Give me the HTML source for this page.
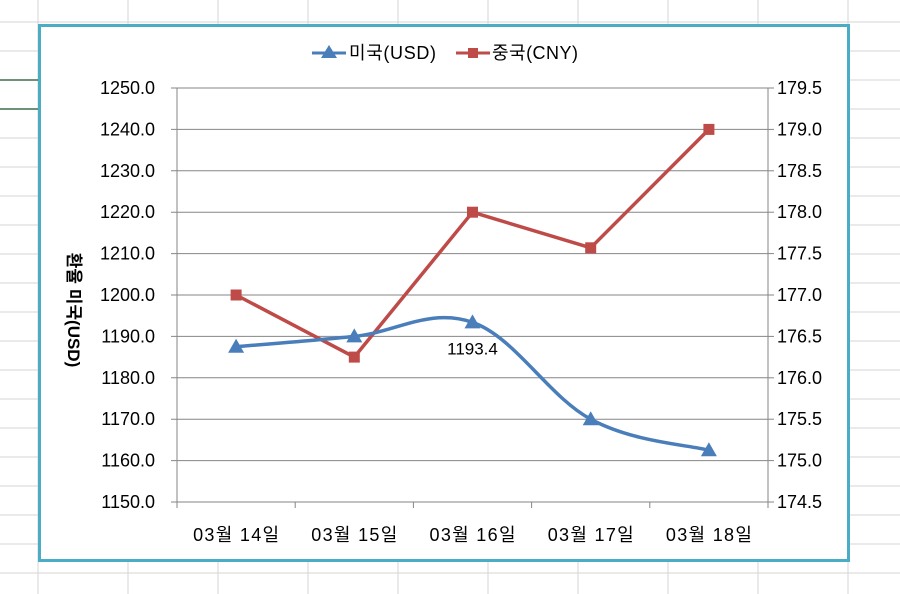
<!DOCTYPE html>
<html><head><meta charset="utf-8"><style>
html,body{margin:0;padding:0;background:#fff}
svg{display:block;font-family:"Liberation Sans","Noto Sans CJK KR",sans-serif}
</style></head><body>
<svg id="c" width="900" height="594" viewBox="0 0 900 594">
<g id="bg"></g>
<line x1="0" y1="80" x2="38" y2="80" stroke="#3c6e4c" stroke-width="1.5"/>
<line x1="0" y1="109" x2="38" y2="109" stroke="#3c6e4c" stroke-width="1.5"/>
<rect x="39.5" y="25.5" width="809" height="535" fill="#fff" stroke="#4bacc6" stroke-width="3"/>
<g id="grid"></g>
<g id="axes"></g>
<g id="marks"></g>
<g>
 <g>
  <line x1="312" y1="53" x2="346" y2="53" stroke="#4a7ebb" stroke-width="3"/>
  <polygon points="329,45 337,58 321,58" fill="#4a7ebb"/>
  <text x="349" y="59" font-size="18" textLength="87" fill="#000">미국(USD)</text>
 </g>
 <g>
  <line x1="456" y1="53" x2="490" y2="53" stroke="#be4b48" stroke-width="3"/>
  <rect x="468" y="48" width="10" height="10" fill="#be4b48"/>
  <text x="492" y="59" font-size="18" textLength="86" fill="#000">중국(CNY)</text>
 </g>
</g>
<text transform="translate(68,310) rotate(90)" text-anchor="middle" font-size="17" font-weight="bold">환율 미국(USD)</text>
</svg>
<script>
const categories=["03월 14일","03월 15일","03월 16일","03월 17일","03월 18일"];
const usdValues=[1187.5,1190.0,1193.4,1170.0,1162.5];
const cnyValues=[177.0,176.25,178.0,177.57,179.0];
const leftTicks=[1150,1160,1170,1180,1190,1200,1210,1220,1230,1240,1250];
const rightTicks=[174.5,175,175.5,176,176.5,177,177.5,178,178.5,179,179.5];
const labelIndex=2;

const NS="http://www.w3.org/2000/svg";
const PL=177,PR=768,PT=88,PB=502;
const yL=v=>PB-(v-1150)/100*(PB-PT);
const yR=v=>PB-(v-174.5)/5*(PB-PT);
const band=(PR-PL)/categories.length;
const xC=i=>PL+band*(i+0.5);
function mk(tag,attrs,parent){const e=document.createElementNS(NS,tag);for(const k in attrs)e.setAttribute(k,attrs[k]);parent.appendChild(e);return e;}

const bg=document.getElementById('bg');
for(let x=38;x<900;x+=90){mk('line',{x1:x,y1:0,x2:x,y2:594,stroke:'#d4d4d4','stroke-width':1},bg);}
for(let y=22;y<594;y+=29){mk('line',{x1:0,y1:y,x2:900,y2:y,stroke:'#d4d4d4','stroke-width':1},bg);}

const grid=document.getElementById('grid'),axes=document.getElementById('axes');
leftTicks.forEach((t,i)=>{
 const y=yL(t);
 const g=mk('line',{x1:PL-6,y1:y,x2:PR,y2:y,stroke:'#868686','stroke-width':1},grid);
 
 
 const tx=mk('text',{x:155,y:y+6,'text-anchor':'end','font-size':18},axes);
 tx.textContent=t.toFixed(1);
 
 
});
rightTicks.forEach(t=>{
 const y=yR(t);
 mk('line',{x1:PR,y1:y,x2:PR+6,y2:y,stroke:'#868686'},axes);
 const tx=mk('text',{x:777,y:y+6,'font-size':18},axes);
 tx.textContent=t.toFixed(1);
 
 
});
mk('line',{x1:PL,y1:PT,x2:PL,y2:PB,stroke:'#868686'},axes);
mk('line',{x1:PR,y1:PT,x2:PR,y2:PB+6,stroke:'#868686'},axes);
for(let i=0;i<=categories.length;i++){mk('line',{x1:PL+band*i,y1:PB,x2:PL+band*i,y2:PB+6,stroke:'#868686'},axes);}
categories.forEach((c,i)=>{
 const tx=mk('text',{x:xC(i),y:541,'text-anchor':'middle','font-size':18,textLength:86},axes);
 tx.textContent=c;
 
 
});

const marks=document.getElementById('marks');
const cp=cnyValues.map((v,i)=>[xC(i),yR(v)]);
const cl=mk('polyline',{points:cp.map(p=>p.join(',')).join(' '),fill:'none',stroke:'#be4b48','stroke-width':3.5,'stroke-linejoin':'round'},marks);


const up=usdValues.map((v,i)=>[xC(i),yL(v)]);
let d=`M${up[0][0]},${up[0][1]}`;
const tn=0.18;
for(let i=0;i<up.length-1;i++){
 const p0=up[Math.max(0,i-1)],p1=up[i],p2=up[i+1],p3=up[Math.min(up.length-1,i+2)];
 const c1=[p1[0]+(p2[0]-p0[0])*tn,p1[1]+(p2[1]-p0[1])*tn];
 const c2=[p2[0]-(p3[0]-p1[0])*tn,p2[1]-(p3[1]-p1[1])*tn];
 d+=` C${c1[0]},${c1[1]} ${c2[0]},${c2[1]} ${p2[0]},${p2[1]}`;
}
const ul=mk('path',{d:d,fill:'none',stroke:'#4a7ebb','stroke-width':3.5},marks);


up.forEach((p,i)=>{
 const m=mk('polygon',{points:`${p[0]},${p[1]-8} ${p[0]+8},${p[1]+6} ${p[0]-8},${p[1]+6}`,fill:'#4a7ebb'},marks);
 
 
});
cp.forEach((p,i)=>{
 const m=mk('rect',{x:p[0]-5.5,y:p[1]-5.5,width:11,height:11,fill:'#be4b48'},marks);
 
 
});
const dl=mk('text',{x:xC(labelIndex),y:yL(usdValues[labelIndex])+32,'text-anchor':'middle','font-size':17},marks);
dl.textContent=usdValues[labelIndex].toFixed(1);


</script>
</body></html>
